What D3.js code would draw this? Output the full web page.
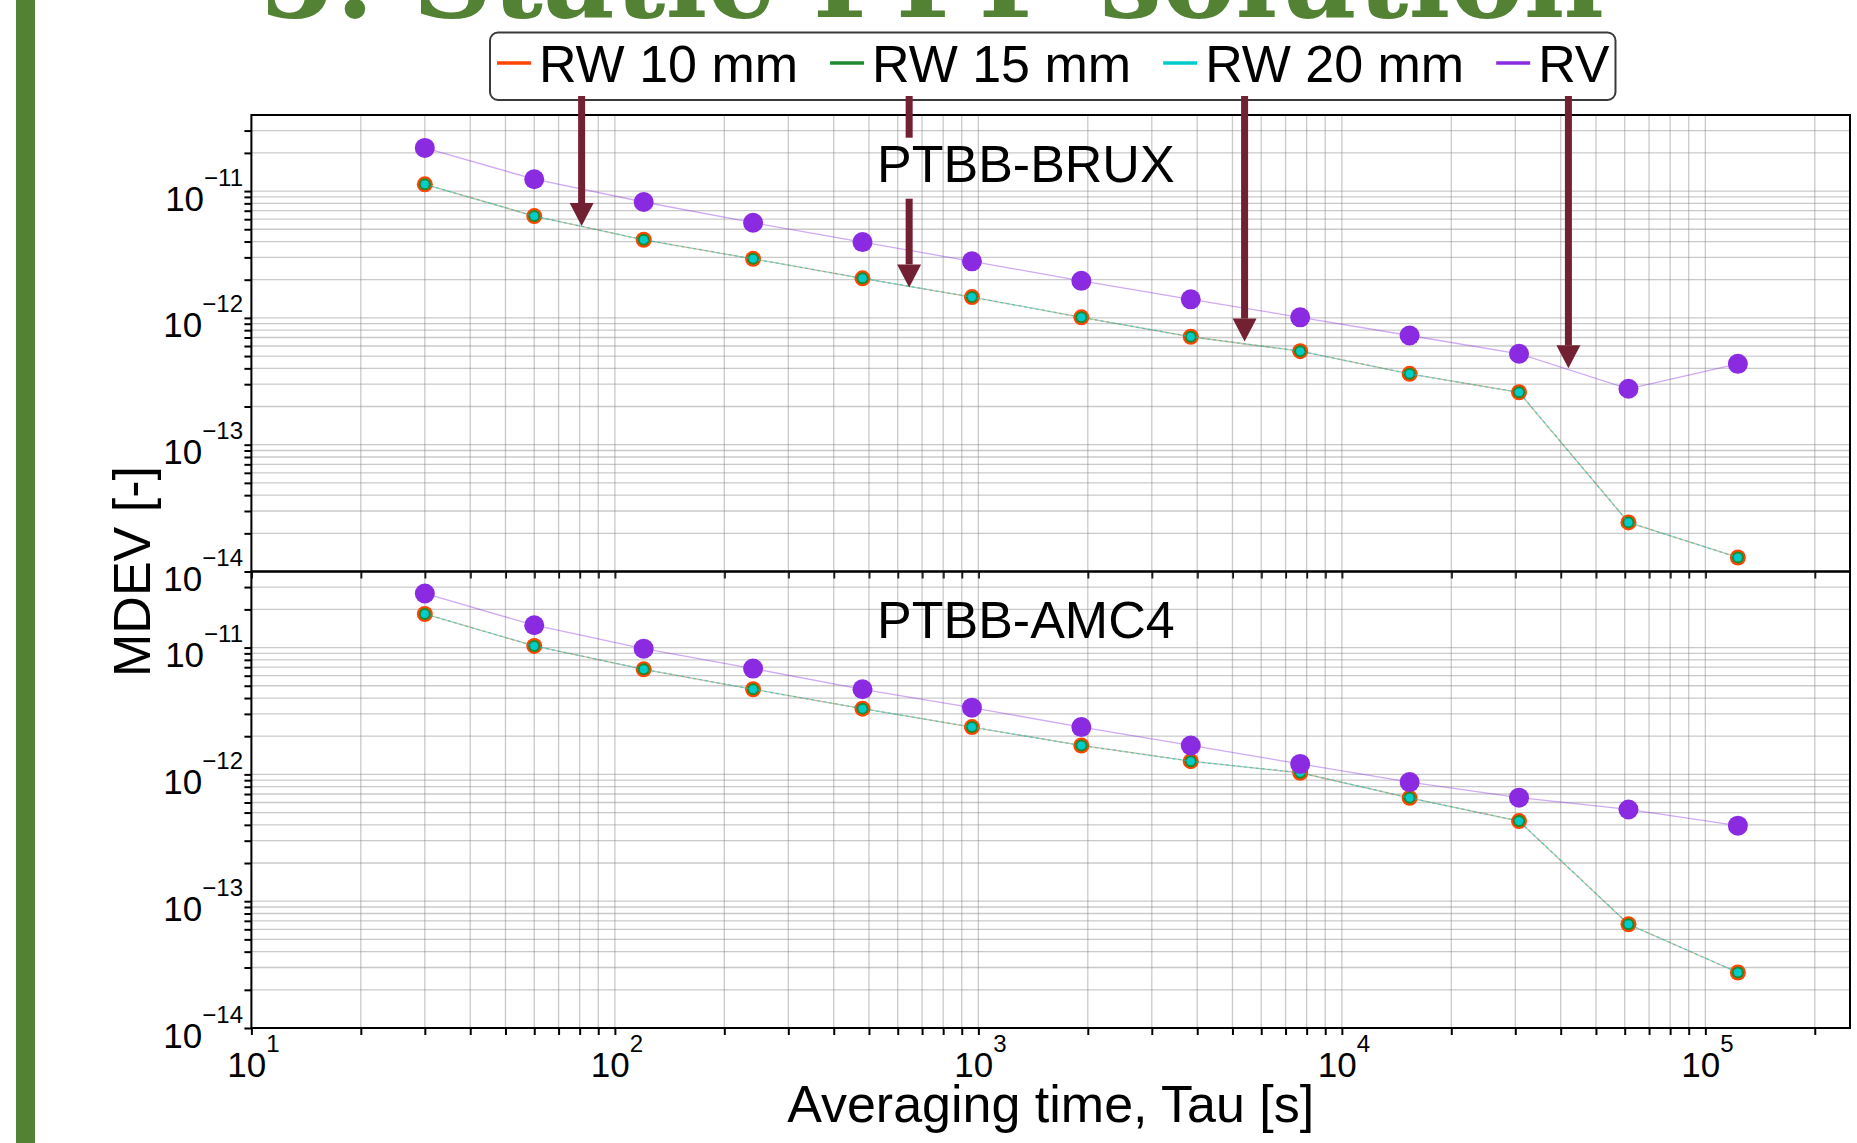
<!DOCTYPE html>
<html>
<head>
<meta charset="utf-8">
<script src="https://cdn.jsdelivr.net/npm/d3@7"></script>
<style>
  body { margin: 0; background: #fff; }
  svg { display: block; font-family: "Liberation Sans", Arial, sans-serif; }
</style>
</head>
<body>
<svg id="chart" width="1857" height="1143"></svg>
<script>
const WIDTH = 1857;
const HEIGHT = 1143;

// averaging times [s]
const tau = [30, 60, 120, 240, 480, 960, 1920, 3840, 7680, 15360, 30720, 61440, 122880];

// PTBB-BRUX
const bruxRW10 = [1.13e-11, 6.35e-12, 4.13e-12, 2.92e-12, 2.05e-12, 1.46e-12, 1.01e-12, 7.1e-13, 5.46e-13, 3.62e-13, 2.59e-13, 2.44e-14, 1.29e-14];
const bruxRW15 = [1.13e-11, 6.35e-12, 4.13e-12, 2.92e-12, 2.05e-12, 1.46e-12, 1.01e-12, 7.1e-13, 5.46e-13, 3.62e-13, 2.59e-13, 2.44e-14, 1.29e-14];
const bruxRW20 = [1.13e-11, 6.35e-12, 4.13e-12, 2.92e-12, 2.05e-12, 1.46e-12, 1.01e-12, 7.1e-13, 5.46e-13, 3.62e-13, 2.59e-13, 2.44e-14, 1.29e-14];
const bruxRV = [2.19e-11, 1.24e-11, 8.2e-12, 5.63e-12, 3.96e-12, 2.79e-12, 1.96e-12, 1.4e-12, 1.01e-12, 7.26e-13, 5.21e-13, 2.76e-13, 4.34e-13];

// PTBB-AMC4
const amc4RW10 = [1.84e-11, 1.03e-11, 6.74e-12, 4.69e-12, 3.3e-12, 2.36e-12, 1.69e-12, 1.27e-12, 1.03e-12, 6.53e-13, 4.28e-13, 6.58e-14, 2.74e-14];
const amc4RW15 = [1.84e-11, 1.03e-11, 6.74e-12, 4.69e-12, 3.3e-12, 2.36e-12, 1.69e-12, 1.27e-12, 1.03e-12, 6.53e-13, 4.28e-13, 6.58e-14, 2.74e-14];
const amc4RW20 = [1.84e-11, 1.03e-11, 6.74e-12, 4.69e-12, 3.3e-12, 2.36e-12, 1.69e-12, 1.27e-12, 1.03e-12, 6.53e-13, 4.28e-13, 6.58e-14, 2.74e-14];
const amc4RV = [2.67e-11, 1.5e-11, 9.8e-12, 6.83e-12, 4.69e-12, 3.36e-12, 2.36e-12, 1.69e-12, 1.21e-12, 8.69e-13, 6.55e-13, 5.29e-13, 3.94e-13];

const seriesNames = ["RW 10 mm", "RW 15 mm", "RW 20 mm", "RV"];
const panelNames = ["PTBB-BRUX", "PTBB-AMC4"];

const xLabelTicks = [1e1, 1e2, 1e3, 1e4, 1e5];
const yLabelTicks = [1e-14, 1e-13, 1e-12, 1e-11];

// slide annotation arrows: tau they point at, value of the tip (top panel)
const arrowTau = [81, 645, 5400, 42000];
const arrowTip = [5.3e-12, 1.74e-12, 6.5e-13, 4.0e-13];

const titleText = "5. Static PPP solution";

// ---- styles / layout
const GREEN = "#548235";
const ARROW = "#722132";
const colors = ["#ff4500", "#1f8a2c", "#00cccc", "#8a2be2"];
const radius = [8, 6, 4, 10];
const lineStyle = [
  { opacity: 0.25, dash: null },
  { opacity: 0.22, dash: null },
  { opacity: 0.6, dash: "3,3" },
  { opacity: 0.4, dash: null },
];

const plot = { left: 251.4, right: 1850, top: 115, bottom: 1028 };
const panelH = (plot.bottom - plot.top) / 2;

const svg = d3.select("#chart");

svg.append("rect").attr("width", WIDTH).attr("height", HEIGHT).attr("fill", "#fff");

// slide decoration
svg.append("rect").attr("x", 16).attr("y", 0).attr("width", 19).attr("height", HEIGHT).attr("fill", GREEN);
svg.append("text")
  .attr("x", 259)
  .attr("y", 16.5)
  .attr("font-family", "'DejaVu Serif', serif")
  .attr("font-weight", "bold")
  .attr("font-size", 110)
  .attr("fill", GREEN)
  .attr("textLength", 1345)
  .attr("lengthAdjust", "spacingAndGlyphs")
  .text(titleText);

const x = d3.scaleLog().domain([10, 2.5e5]).range([plot.left, plot.right]);

const isMajor = (v) => Math.abs(Math.log10(v) - Math.round(Math.log10(v))) < 1e-6;

function powLabel(sel, v) {
  const e = Math.round(Math.log10(v));
  sel.append("tspan").text("10");
  sel.append("tspan")
    .attr("dy", -25)
    .attr("font-size", 24)
    .text(e < 0 ? "\u2212" + -e : String(e));
}

const panels = [
  { name: panelNames[0], series: [bruxRW10, bruxRW15, bruxRW20, bruxRV] },
  { name: panelNames[1], series: [amc4RW10, amc4RW15, amc4RW20, amc4RV] },
];

const titleBoxes = [];
let yTop = null;

panels.forEach((panel, p) => {
  const top = plot.top + p * panelH;
  const bottom = top + panelH;
  const y = d3.scaleLog().domain([1e-14, 3.98e-11]).range([bottom, top]);
  if (p === 0) yTop = y;

  const g = svg.append("g").classed("panel", true);

  // grid, major and minor
  const grid = g.append("g")
    .attr("stroke", "#808080")
    .attr("stroke-opacity", 0.42)
    .attr("stroke-width", 1.3);
  grid.selectAll(".vx")
    .data(x.ticks())
    .join("line")
    .attr("x1", (d) => x(d))
    .attr("x2", (d) => x(d))
    .attr("y1", top)
    .attr("y2", bottom);
  grid.selectAll(".hy")
    .data(y.ticks())
    .join("line")
    .attr("x1", plot.left)
    .attr("x2", plot.right)
    .attr("y1", (d) => y(d))
    .attr("y2", (d) => y(d));

  // panel title
  const title = g.append("text")
    .attr("x", 877)
    .attr("y", top + 66.7)
    .attr("font-size", 52)
    .attr("fill", "#000")
    .text(panel.name);
  titleBoxes.push(title.node().getBBox());

  // series: line then markers, in legend order
  const line = d3.line()
    .x((d, i) => x(tau[i]))
    .y((d) => y(d));

  panel.series.forEach((vals, s) => {
    g.append("path")
      .datum(vals)
      .attr("d", line)
      .attr("fill", "none")
      .attr("stroke", colors[s])
      .attr("stroke-width", 1.3)
      .attr("stroke-opacity", lineStyle[s].opacity)
      .attr("stroke-dasharray", lineStyle[s].dash);
    g.append("g")
      .selectAll("circle")
      .data(vals)
      .join("circle")
      .attr("cx", (d, i) => x(tau[i]))
      .attr("cy", (d) => y(d))
      .attr("r", radius[s])
      .attr("fill", colors[s]);
  });

  // ticks
  g.append("g")
    .attr("class", "y-axis")
    .attr("transform", `translate(${plot.left},0)`)
    .call(d3.axisLeft(y).tickValues(y.ticks()).tickFormat("").tickSize(7).tickSizeOuter(0))
    .call((a) => a.select(".domain").remove())
    .selectAll("line")
    .attr("stroke", "#000")
    .attr("stroke-width", 2);

  g.append("g")
    .attr("class", "x-axis")
    .attr("transform", `translate(0,${bottom})`)
    .call(d3.axisBottom(x).tickValues(x.ticks()).tickFormat("").tickSize(7).tickSizeOuter(0))
    .call((a) => a.select(".domain").remove())
    .selectAll("line")
    .attr("stroke", "#000")
    .attr("stroke-width", 2);

  // y tick labels
  g.append("g")
    .selectAll("text")
    .data(yLabelTicks)
    .join("text")
    .attr("x", 243)
    .attr("y", (d) => y(d) + 19.5)
    .attr("text-anchor", "end")
    .attr("font-size", 35)
    .each(function (d) { powLabel(d3.select(this), d); });

  // frame
  g.append("rect")
    .attr("x", plot.left)
    .attr("y", top)
    .attr("width", plot.right - plot.left)
    .attr("height", panelH)
    .attr("fill", "none")
    .attr("stroke", "#000")
    .attr("stroke-width", 2);
});

// x tick labels (bottom panel only)
svg.append("g")
  .selectAll("text")
  .data(xLabelTicks.filter(isMajor))
  .join("text")
  .attr("x", (d) => x(d) + 2)
  .attr("y", plot.bottom + 49)
  .attr("text-anchor", "middle")
  .attr("font-size", 35)
  .each(function (d) { powLabel(d3.select(this), d); });

// axis labels
svg.append("text")
  .attr("x", (plot.left + plot.right) / 2)
  .attr("y", 1122)
  .attr("text-anchor", "middle")
  .attr("font-size", 52)
  .text("Averaging time, Tau [s]");

svg.append("text")
  .attr("transform", `translate(150,${(plot.top + plot.bottom) / 2}) rotate(-90)`)
  .attr("text-anchor", "middle")
  .attr("font-size", 52)
  .text("MDEV [-]");

// legend
const legend = svg.append("g").attr("class", "legend");
const legendBox = legend.append("rect")
  .attr("y", 32.5)
  .attr("height", 67.5)
  .attr("rx", 8)
  .attr("fill", "#fff")
  .attr("stroke", "#3a3a3a")
  .attr("stroke-width", 2);

let lx = 497;
seriesNames.forEach((name, s) => {
  legend.append("line")
    .attr("x1", lx)
    .attr("x2", lx + 34)
    .attr("y1", 63)
    .attr("y2", 63)
    .attr("stroke", colors[s])
    .attr("stroke-width", 3.5);
  const t = legend.append("text")
    .attr("x", lx + 42)
    .attr("y", 81.7)
    .attr("font-size", 52)
    .text(name);
  lx += 42 + t.node().getComputedTextLength() + 32;
});
legendBox.attr("x", 490).attr("width", lx - 32 + 6 - 490);

// arrows from the legend down to the RW curves, broken around panel titles
const shaftW = 7, headW = 24, headL = 23, arrowStart = 96;
const tb = titleBoxes[0];
arrowTau.forEach((t, i) => {
  const ax = x(t);
  const tipY = yTop(arrowTip[i]);
  const segs = [];
  if (ax > tb.x && ax < tb.x + tb.width && tb.y < tipY) {
    segs.push([arrowStart, tb.y + 3]);
    segs.push([tb.y + tb.height + 6, tipY]);
  } else {
    segs.push([arrowStart, tipY]);
  }
  segs.forEach(([y0, y1], k) => {
    const last = k === segs.length - 1;
    const shaftEnd = last ? y1 - headL : y1;
    svg.append("rect")
      .attr("x", ax - shaftW / 2)
      .attr("y", y0)
      .attr("width", shaftW)
      .attr("height", shaftEnd - y0)
      .attr("fill", ARROW);
    if (last) {
      svg.append("path")
        .attr("d", `M${ax - headW / 2},${shaftEnd}L${ax + headW / 2},${shaftEnd}L${ax},${y1}Z`)
        .attr("fill", ARROW);
    }
  });
});
</script>
</body>
</html>
